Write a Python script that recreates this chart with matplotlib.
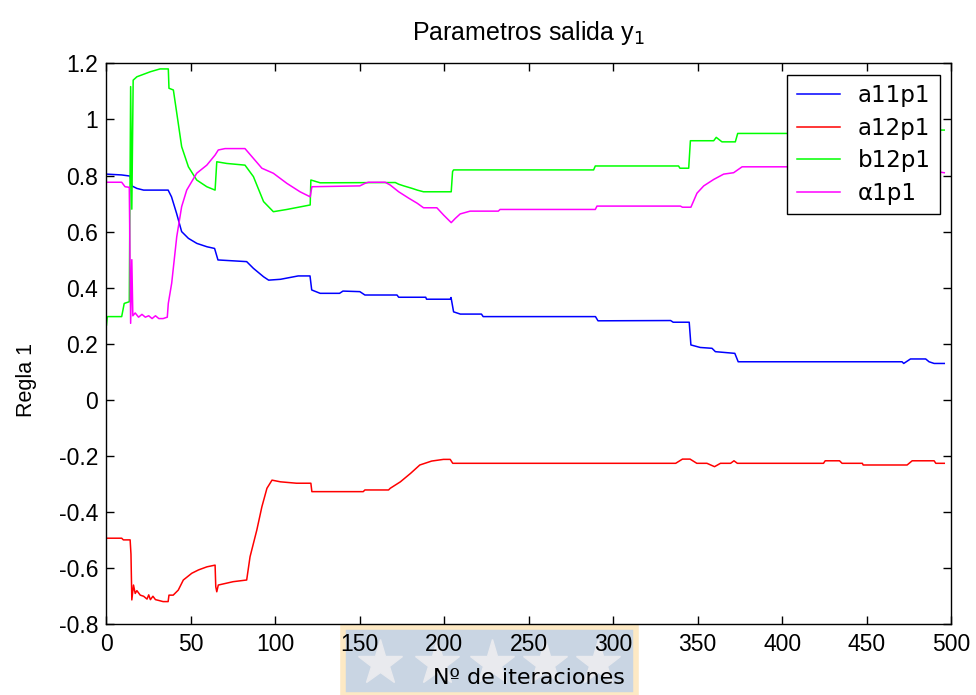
import matplotlib
matplotlib.use("Agg")
import matplotlib.pyplot as plt
import matplotlib.ticker as mticker
from matplotlib.patches import Rectangle
from matplotlib.lines import Line2D

plt.rcParams["font.family"] = ["Liberation Sans", "DejaVu Sans"]
plt.rcParams["axes.unicode_minus"] = False

# a11p1 (blue)
a11_x = [0, 9, 14, 15, 18, 22, 36.5, 38.5, 41.5, 44.5, 48.5, 53.5, 59.5, 64, 66, 83, 87, 93, 96, 103,
         113.5, 120.5, 121.5, 126.5, 138, 140, 150, 153, 172, 173, 189, 189.5, 203.5, 204, 205.5, 209.5,
         222, 223, 289.5, 291, 334, 335.5, 345, 346, 351.5, 358.5, 360.5, 372, 374, 471, 472, 476, 485,
         487, 490, 496]
a11_y = [0.805, 0.802, 0.798, 0.763, 0.754, 0.748, 0.748, 0.724, 0.665, 0.600, 0.576, 0.558, 0.546, 0.540,
         0.499, 0.493, 0.469, 0.439, 0.427, 0.430, 0.442, 0.442, 0.392, 0.380, 0.380, 0.388, 0.386, 0.374,
         0.374, 0.366, 0.366, 0.359, 0.359, 0.365, 0.314, 0.306, 0.306, 0.297, 0.297, 0.282, 0.283, 0.277,
         0.277, 0.196, 0.187, 0.184, 0.172, 0.166, 0.136, 0.136, 0.130, 0.146, 0.146, 0.136, 0.130, 0.130]

# a12p1 (red)
a12_x = [0, 9, 10, 14, 14.5, 15, 16, 17, 18, 20, 22, 24, 25, 26, 27.5, 29, 31, 33.5, 36.5, 37, 39.5,
         42.5, 45.5, 50.5, 54.5, 59.5, 64.3, 64.7, 65.3, 66.2, 75, 83, 85, 89, 92, 95, 98, 103, 112.5,
         121, 121.6, 152, 153, 167, 168, 174, 180, 185.5, 192.5, 199.5, 203.5, 205, 337, 341, 345.5,
         349.5, 355.5, 360, 363.5, 369.5, 371.5, 373.5, 424.5, 425.5, 434, 435.5, 447.5, 448, 474, 477,
         490, 491, 496]
a12_y = [-0.493, -0.493, -0.499, -0.499, -0.55, -0.713, -0.66, -0.69, -0.68, -0.696, -0.70, -0.71, -0.695,
         -0.712, -0.70, -0.712, -0.715, -0.719, -0.719, -0.696, -0.696, -0.678, -0.642, -0.618, -0.606,
         -0.595, -0.589, -0.666, -0.684, -0.66, -0.648, -0.642, -0.559, -0.464, -0.381, -0.315, -0.286,
         -0.292, -0.297, -0.297, -0.327, -0.327, -0.321, -0.321, -0.315, -0.292, -0.262, -0.232, -0.218,
         -0.212, -0.212, -0.226, -0.226, -0.211, -0.211, -0.226, -0.226, -0.238, -0.226, -0.226, -0.217,
         -0.226, -0.226, -0.217, -0.217, -0.226, -0.226, -0.232, -0.232, -0.217, -0.217, -0.226, -0.226]

# b12p1 (green)
b12_x = [0, 0.5, 9, 10.5, 13.5, 14.3, 15.0, 15.8, 18, 26, 31.7, 36.6, 37, 39.6, 42.5, 44.5, 48.5, 53.4,
         59.4, 64.3, 65.3, 71.2, 82, 87, 93, 98.8, 106.8, 120.6, 121, 126.5, 171, 173, 176, 181, 184,
         187.7, 204.1, 204.9, 205.5, 288.4, 289.4, 338.7, 339.5, 344.7, 345.7, 359.5, 361, 364.4, 372.3,
         373.7, 440, 441, 496]
b12_y = [0.267, 0.297, 0.297, 0.344, 0.35, 1.117, 0.68, 1.14, 1.152, 1.17, 1.18, 1.18, 1.111, 1.105, 0.986,
         0.903, 0.831, 0.784, 0.760, 0.748, 0.849, 0.843, 0.837, 0.796, 0.707, 0.671, 0.679, 0.695, 0.784,
         0.774, 0.775, 0.769, 0.763, 0.754, 0.748, 0.742, 0.742, 0.814, 0.820, 0.820, 0.834, 0.834, 0.826,
         0.826, 0.924, 0.924, 0.936, 0.920, 0.920, 0.950, 0.950, 0.962, 0.962]

# alpha1p1 (magenta)
al_x = [0, 9, 11, 13.5, 14.3, 15, 15.6, 17, 19, 21, 23, 25, 27, 29, 31, 33.5, 36, 36.6, 38.6, 41.6, 44.5,
        47.5, 53.4, 59.4, 64.3, 66.2, 70.2, 82, 87, 92, 98.8, 106.8, 114.6, 120.6, 121.6, 150, 153, 155,
        165, 168, 173, 179, 184, 187.7, 195.6, 199.6, 204.1, 206.5, 209.4, 215.3, 232, 233, 289.4, 290.4,
        339.8, 341, 346, 349.6, 353.6, 359.5, 365.4, 371.3, 376.3, 480, 490, 496]
al_y = [0.776, 0.776, 0.760, 0.758, 0.273, 0.50, 0.30, 0.31, 0.295, 0.305, 0.295, 0.30, 0.29, 0.30, 0.29,
        0.29, 0.295, 0.344, 0.416, 0.582, 0.689, 0.748, 0.808, 0.837, 0.873, 0.891, 0.896, 0.896, 0.861,
        0.826, 0.808, 0.772, 0.742, 0.724, 0.760, 0.763, 0.772, 0.776, 0.776, 0.766, 0.742, 0.719, 0.701,
        0.685, 0.685, 0.659, 0.632, 0.647, 0.663, 0.673, 0.673, 0.679, 0.679, 0.691, 0.691, 0.687, 0.687,
        0.737, 0.763, 0.786, 0.805, 0.810, 0.831, 0.831, 0.815, 0.81]

fig = plt.figure(figsize=(9.76, 6.95), dpi=100)
ax = fig.add_axes([0.1091, 0.1017, 0.8653, 0.8072])

ax.plot(a11_x, a11_y, color="#0000ff", lw=1.1, label="a11p1")
ax.plot(a12_x, a12_y, color="#ff0000", lw=1.1, label="a12p1")
ax.plot(b12_x, b12_y, color="#00ff00", lw=1.1, label="b12p1")
ax.plot(al_x, al_y, color="#ff00ff", lw=1.1, label="α1p1")

ax.set_xlim(0, 500)
ax.set_ylim(-0.8, 1.2)
ax.set_xticks(range(0, 501, 50))
ax.set_yticks([-0.8, -0.6, -0.4, -0.2, 0, 0.2, 0.4, 0.6, 0.8, 1, 1.2])
ax.yaxis.set_major_formatter(mticker.FuncFormatter(lambda y, _: f"{y:g}"))
ax.tick_params(direction="in", top=True, right=True, length=6, width=1, labelsize=16.5, pad=6)
for s in ax.spines.values():
    s.set_linewidth(1)

ax.set_title("Parametros salida y$_1$", fontsize=18, pad=17)
ax.set_xlabel("Nº de iteraciones", fontsize=16, family="DejaVu Sans")
ax.xaxis.set_label_coords(0.5, -0.078)
ax.set_ylabel("Regla 1", fontsize=15.5)
ax.yaxis.set_label_coords(-0.082, 0.435)

leg = ax.legend(loc="upper right", frameon=True, fancybox=False, framealpha=1,
                prop={"family": "DejaVu Sans", "size": 16.5},
                edgecolor="black", handlelength=1.9, handletextpad=0.75, labelspacing=0.42,
                borderaxespad=0.5, borderpad=0.4)
leg.get_frame().set_linewidth(1)

# watermark band under the x axis
fig.patches.append(Rectangle((343 / 976, 0), 293 / 976, 68 / 695, transform=fig.transFigure,
                             facecolor="#c9d5e3", edgecolor="#fde9c4", lw=4, zorder=-1))
for sx in [380, 437, 492, 545, 598]:
    fig.add_artist(Line2D([sx / 976], [1 - 663 / 695], transform=fig.transFigure, marker="*",
                          markersize=34, color="#e9eaee", zorder=-0.5))

fig.savefig("out.png", dpi=100)
